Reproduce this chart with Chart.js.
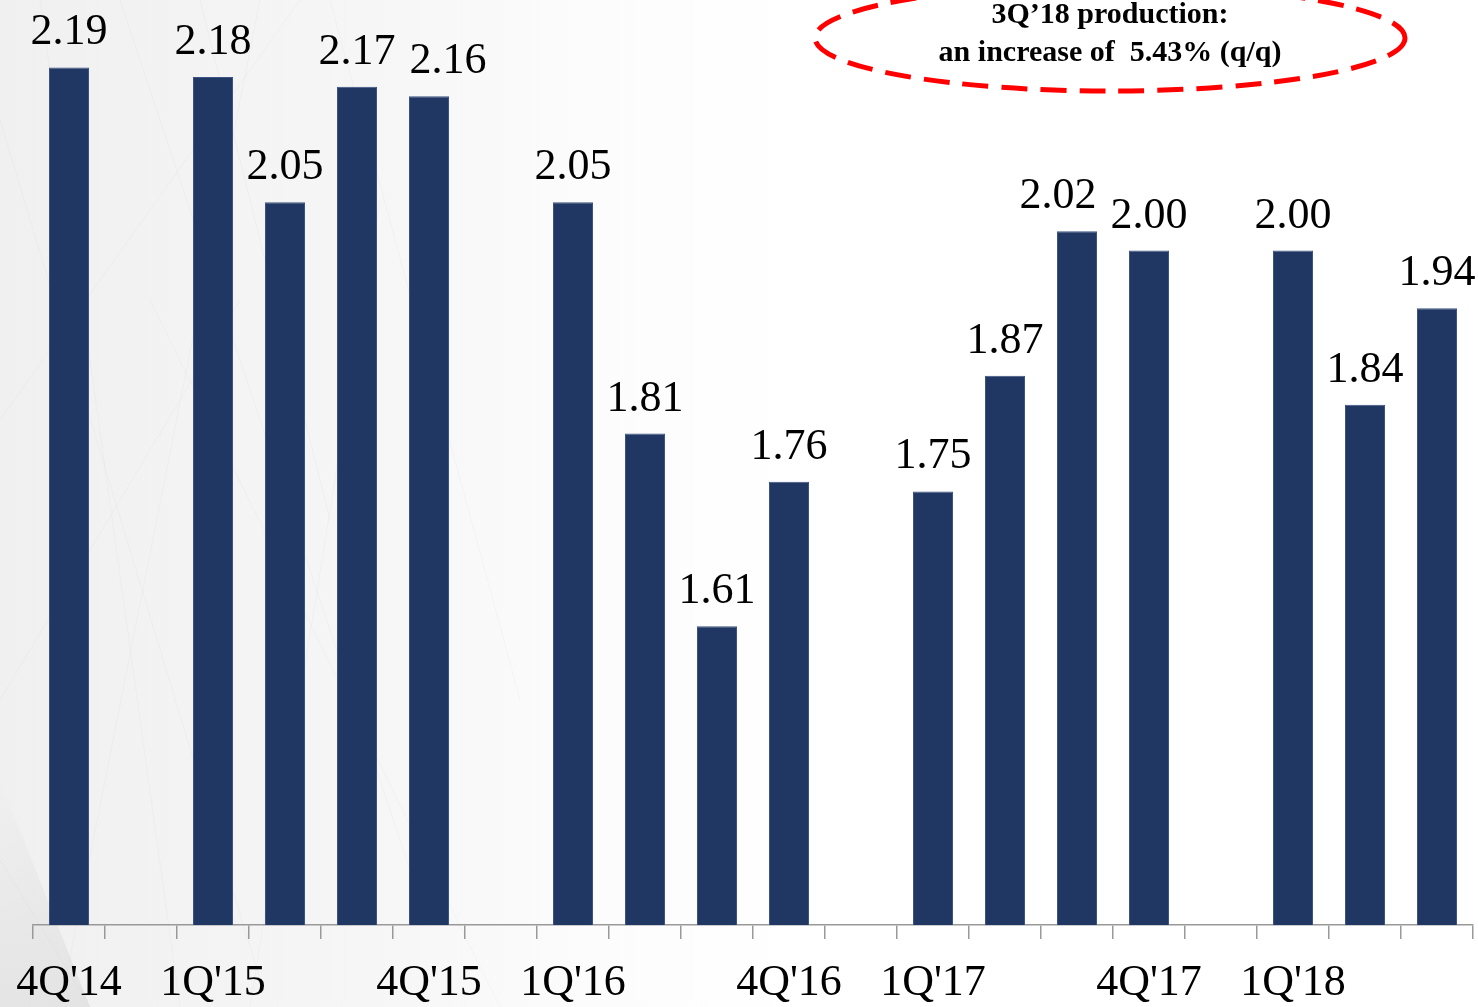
<!DOCTYPE html>
<html>
<head>
<meta charset="utf-8">
<script src="https://cdn.jsdelivr.net/npm/chart.js@4/dist/chart.umd.min.js"></script>
<style>
  html, body { margin: 0; padding: 0; background: #fff; overflow: hidden; }
  #wrap { position: relative; width: 1478px; height: 1007px; }
</style>
</head>
<body>
<div id="wrap"><canvas id="prod"></canvas></div>
<script>
// ===== ข้อมูล: ผลผลิตรายไตรมาส (ช่องว่าง = null) =====
const quarters = ["4Q'14", "", "1Q'15", "", "", "4Q'15", "", "1Q'16", "", "", "4Q'16", "", "1Q'17", "", "", "4Q'17", "", "1Q'18", "", ""];
const production = [2.19, null, 2.18, 2.05, 2.17, 2.16, null, 2.05, 1.81, 1.61, 1.76, null, 1.75, 1.87, 2.02, 2.00, null, 2.00, 1.84, 1.94];
const calloutLines = ['3Q\u201918 production:', 'an increase of  5.43% (q/q)'];

// เลื่อนป้ายตัวเลขบางแท่งไม่ให้ชนกัน (px)
const labelShift = { 5: 19, 14: -19 };

const SERIF = '"Liberation Serif", "DejaVu Serif", serif';

// พื้นหลังเทาอ่อนด้านซ้าย + เส้นลายจาง ๆ
const backdrop = {
  id: 'backdrop',
  beforeDraw(chart) {
    const { ctx, width, height } = chart;
    ctx.save();
    const g = ctx.createLinearGradient(0, 0, width, 0);
    g.addColorStop(0, '#f0f0f0');
    g.addColorStop(0.25, '#f6f6f6');
    g.addColorStop(0.4, '#fcfcfc');
    g.addColorStop(0.55, '#ffffff');
    ctx.fillStyle = g;
    ctx.fillRect(0, 0, width, height);
    ctx.strokeStyle = 'rgba(185,185,185,0.09)';
    ctx.lineWidth = 1;
    const strokes = [
      [0, 120, 260, 980], [40, 0, 180, 1007], [120, 0, 420, 900], [0, 420, 300, 0],
      [260, 0, 60, 1007], [330, 0, 520, 700], [0, 700, 240, 300], [150, 300, 500, 1007],
      [0, 860, 90, 1007], [200, 0, 330, 520], [380, 200, 250, 1007]
    ];
    strokes.forEach(s => { ctx.beginPath(); ctx.moveTo(s[0], s[1]); ctx.lineTo(s[2], s[3]); ctx.stroke(); });
    // มุมล่างซ้ายเทาเข้มขึ้นเล็กน้อย
    const cg = ctx.createLinearGradient(0, 780, 120, 1007);
    cg.addColorStop(0, 'rgba(200,200,200,0)');
    cg.addColorStop(1, 'rgba(205,205,205,0.4)');
    ctx.fillStyle = cg;
    ctx.beginPath(); ctx.moveTo(0, 780); ctx.lineTo(90, 1007); ctx.lineTo(0, 1007); ctx.closePath(); ctx.fill();
    ctx.restore();
  }
};

// ป้ายตัวเลขเหนือแท่ง
const valueLabels = {
  id: 'valueLabels',
  afterDatasetsDraw(chart) {
    const { ctx } = chart;
    const meta = chart.getDatasetMeta(0);
    ctx.save();
    ctx.font = '44px ' + SERIF;
    ctx.fillStyle = '#000';
    ctx.textAlign = 'center';
    ctx.textBaseline = 'alphabetic';
    meta.data.forEach((bar, i) => {
      const v = production[i];
      if (v == null) return;
      ctx.fillText(v.toFixed(2), bar.x + (labelShift[i] || 0), bar.y - 23);
    });
    ctx.restore();
  }
};

// วงรีเส้นประสีแดงพร้อมข้อความ
const callout = {
  id: 'callout',
  afterDraw(chart) {
    const { ctx } = chart;
    ctx.save();
    ctx.strokeStyle = '#ff0000';
    ctx.lineWidth = 5;
    ctx.setLineDash([26, 13]);
    ctx.beginPath();
    ctx.ellipse(1110, 38, 295, 53, 0, 0, Math.PI * 2);
    ctx.stroke();
    ctx.setLineDash([]);
    ctx.fillStyle = '#000';
    ctx.font = 'bold 30px ' + SERIF;
    ctx.textAlign = 'center';
    ctx.textBaseline = 'middle';
    ctx.fillText(calloutLines[0], 1110, 15);
    ctx.fillText(calloutLines[1], 1110, 53);
    ctx.restore();
  }
};

new Chart(document.getElementById('prod'), {
  type: 'bar',
  data: {
    labels: quarters,
    datasets: [{
      data: production,
      backgroundColor: '#213763',
      borderColor: '#3d5384',
      borderWidth: 1,
      categoryPercentage: 1,
      barPercentage: 0.556
    }]
  },
  options: {
    responsive: true,
    maintainAspectRatio: false,
    animation: false,
    layout: { padding: { left: 33, right: 5, top: 0, bottom: 0 } },
    plugins: { legend: { display: false }, tooltip: { enabled: false } },
    scales: {
      x: {
        offset: true,
        grid: { offset: true, drawOnChartArea: false, tickLength: 14, color: '#999', lineWidth: 1.5 },
        border: { display: true, color: '#999', width: 1.5 },
        ticks: {
          autoSkip: false, maxRotation: 0, minRotation: 0, padding: 18,
          color: '#000', font: { family: SERIF, size: 44 }
        },
        // ความสูงแกนคงที่ และไม่ให้ป้ายแรก/สุดท้ายดันพื้นที่กราฟ
        afterFit(scale) { scale.height = 82; scale.paddingLeft = 0; scale.paddingRight = 0; }
      },
      y: { display: false, min: 1.3, max: 2.26 }
    }
  },
  plugins: [backdrop, valueLabels, callout]
});
</script>
</body>
</html>
